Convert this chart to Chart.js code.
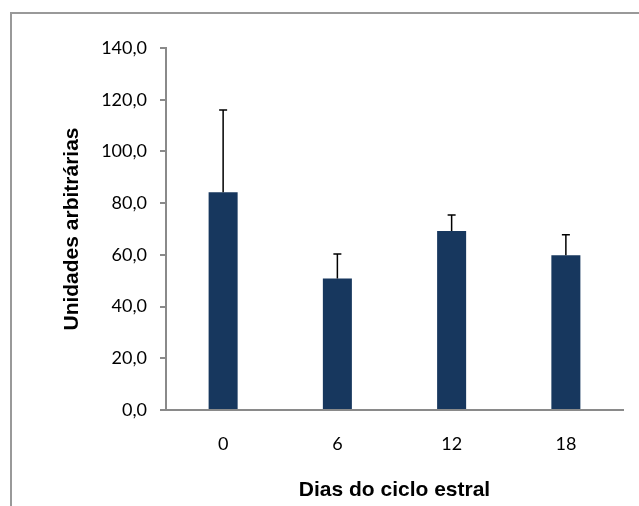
<!DOCTYPE html>
<html>
<head>
<meta charset="utf-8">
<script src="https://cdn.jsdelivr.net/npm/chart.js@4"></script>
<style>
  body { margin: 0; background: #fff; overflow: hidden; }
  .frame { position: absolute; left: 10px; top: 12px; width: 700px; height: 600px;
           border-top: 2px solid #999; border-left: 2px solid #999; }
  canvas { position: absolute; left: 0; top: 0; }
</style>
</head>
<body>
<div class="frame"></div>
<canvas id="chart" width="639" height="506"></canvas>
<script>
// data
const days = ['0', '6', '12', '18'];
const means = [84.2, 50.9, 69.2, 59.8];
const errors = [31.8, 9.4, 6.2, 8.0];
const yTickLabels = ['0,0', '20,0', '40,0', '60,0', '80,0', '100,0', '120,0', '140,0'];

const barColor = '#17375e';
const axisColor = '#8a8a8a';

// upward-only error bars, drawn through the y scale
const errorBars = {
  id: 'errorBars',
  afterDatasetsDraw(chart) {
    const ctx = chart.ctx;
    const y = chart.scales.y;
    const meta = chart.getDatasetMeta(0);
    ctx.save();
    ctx.strokeStyle = '#000';
    ctx.lineWidth = 1.5;
    meta.data.forEach((bar, i) => {
      const yTop = y.getPixelForValue(means[i] + errors[i]);
      ctx.beginPath();
      ctx.moveTo(bar.x, bar.y);
      ctx.lineTo(bar.x, yTop);
      ctx.moveTo(bar.x - 4, yTop);
      ctx.lineTo(bar.x + 4, yTop);
      ctx.stroke();
    });
    ctx.restore();
  }
};

new Chart(document.getElementById('chart').getContext('2d'), {
  type: 'bar',
  data: {
    labels: days,
    datasets: [{
      data: means,
      backgroundColor: barColor,
      categoryPercentage: 1,
      barPercentage: 0.254,
    }]
  },
  options: {
    responsive: false,
    animation: false,
    layout: { padding: { left: 0, top: 48, right: 16, bottom: 0 } },
    plugins: { legend: { display: false }, tooltip: { enabled: false } },
    scales: {
      x: {
        grid: { display: false, drawTicks: false },
        border: { display: true, color: axisColor, width: 2 },
        ticks: { color: '#000', padding: 23, font: { family: 'Lato', size: 18 } },
        title: {
          display: true,
          text: 'Dias do ciclo estral',
          color: '#000',
          font: { family: 'Liberation Sans', size: 21, weight: 'bold' },
          padding: { top: 0, bottom: 3 }
        },
        afterFit(scale) { scale.height = 96; }
      },
      y: {
        min: 0,
        max: 140,
        grid: { drawOnChartArea: false, drawTicks: true, tickLength: 6, color: axisColor, lineWidth: 2 },
        border: { display: true, color: axisColor, width: 2 },
        ticks: {
          stepSize: 20,
          padding: 13,
          color: '#000',
          font: { family: 'Lato', size: 18 },
          callback: (v, i) => yTickLabels[i]
        },
        title: {
          display: true,
          text: 'Unidades arbitrárias',
          color: '#000',
          font: { family: 'Liberation Sans', size: 21, weight: 'bold' },
          padding: { top: 60, bottom: 0 }
        },
        afterFit(scale) { scale.width = 166; }
      }
    }
  },
  plugins: [errorBars]
});
</script>
</body>
</html>
